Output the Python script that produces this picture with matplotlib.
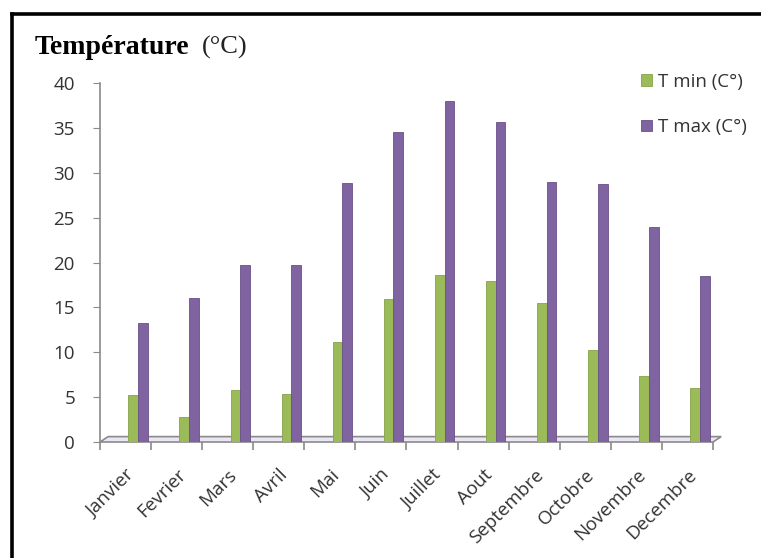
import numpy as np
import matplotlib
matplotlib.use('Agg')
import matplotlib.pyplot as plt
from matplotlib.lines import Line2D
from matplotlib.patches import Polygon

# monthly temperatures (°C)
mois = ['Janvier', 'Fevrier', 'Mars', 'Avril', 'Mai', 'Juin', 'Juillet',
        'Aout', 'Septembre', 'Octobre', 'Novembre', 'Decembre']
t_min = [5.2, 2.8, 5.8, 5.4, 11.1, 15.9, 18.6, 17.9, 15.5, 10.3, 7.4, 6.0]
t_max = [13.3, 16.1, 19.7, 19.7, 28.9, 34.5, 38.0, 35.6, 29.0, 28.7, 24.0, 18.5]
y_ticks = [0, 5, 10, 15, 20, 25, 30, 35, 40]

green = '#9bbb59'
purple = '#8064a2'
grey = '#8a8a8a'

plt.rcParams['font.family'] = ['Open Sans', 'DejaVu Sans']

fig = plt.figure(figsize=(7.61, 5.58), dpi=100)
ax = fig.add_axes([100 / 761, 1 - 442 / 558, 613 / 761, 359 / 558])

x = np.arange(len(mois))
w = 0.19
ax.bar(x + 0.15, t_min, w, color=green, edgecolor='#86a34a', linewidth=0.6, zorder=3, label='T min (C°)')
ax.bar(x + 0.34, t_max, w, color=purple, edgecolor='#6a5089', linewidth=0.6, zorder=3, label='T max (C°)')

# 3d-like floor
floor = Polygon([(-0.5, 0), (11.5, 0), (11.5 + 0.16, 0.6), (-0.5 + 0.16, 0.6)],
                closed=True, facecolor='#ebe6f3', edgecolor=grey, linewidth=1.2,
                zorder=2, clip_on=False)
ax.add_patch(floor)

ax.set_xlim(-0.5, 11.5)
ax.set_ylim(0, 40)

for s in ['top', 'right']:
    ax.spines[s].set_visible(False)
ax.spines['left'].set_color(grey)
ax.spines['left'].set_linewidth(1.2)
ax.spines['bottom'].set_visible(False)

ax.set_yticks(y_ticks)
ax.tick_params(axis='y', length=5, color=grey, pad=13, labelsize=13.5, labelcolor='#333333')

ax.set_xticks(x)
ax.set_xticklabels(mois, rotation=45, ha='right', rotation_mode='anchor')
ax.set_xticks(np.arange(-0.5, 12, 1), minor=True)
ax.tick_params(axis='x', which='major', length=0, pad=17, labelsize=13.5, labelcolor='#333333')
ax.tick_params(axis='x', which='minor', length=6, color=grey, width=1.2)
ax.patch.set_alpha(0)

ax.legend(loc='upper left', bbox_to_anchor=(624 / 761, 1 - 56 / 558), bbox_transform=fig.transFigure,
          frameon=False, fontsize=13.5, handlelength=0.6, handleheight=0.6, handletextpad=0.3,
          labelspacing=1.45, labelcolor='#333333')

fig.text(35 / 761, 1 - 47 / 558, 'Température', family='Liberation Serif', fontweight='bold',
         fontsize=20, va='center', ha='left')
fig.text(202 / 761, 1 - 47 / 558, '(°C)', family='Liberation Serif', fontsize=19,
         va='center', ha='left', color='#222222')

# black frame (top and left)
fig.add_artist(Line2D([12 / 761, 1], [1 - 14 / 558, 1 - 14 / 558], color='black', linewidth=2.6,
                      transform=fig.transFigure))
fig.add_artist(Line2D([12 / 761, 12 / 761], [1 - 14 / 558, 0], color='black', linewidth=2.6,
                      transform=fig.transFigure))

fig.savefig('out.png', dpi=100)
